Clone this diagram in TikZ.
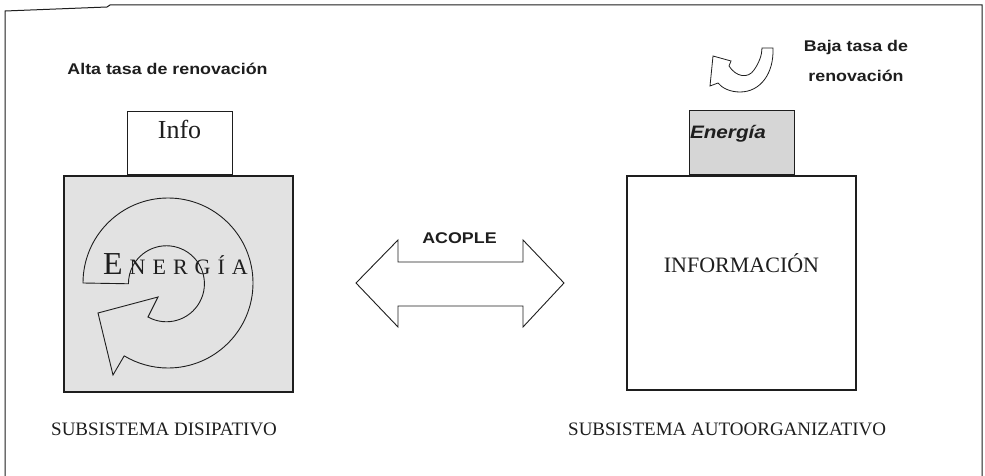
\documentclass[tikz,border=0pt]{standalone}
\usepackage{fontspec}
\setmainfont{Liberation Serif}
\newfontfamily\labelsans{Liberation Sans}[FakeStretch=1.15]
\definecolor{boxgray}{HTML}{E2E2E2}
\definecolor{tabgray}{HTML}{D6D6D6}
\definecolor{ink}{HTML}{1E1E1E}
\begin{document}
\begin{tikzpicture}[x=1pt,y=-1pt,
  every node/.style={inner sep=0pt, text=ink},
  frameline/.style={draw=ink, line width=1pt},
  mainbox/.style={draw=ink, line width=1.3pt, minimum width=229pt, minimum height=216pt},
  tabbox/.style={draw=ink, line width=1pt, text width=105pt},
  bandshape/.style={draw=ink, line width=0.9pt, line join=miter},
  sanslabel/.style={font=\labelsans\bfseries\fontsize{15.5}{18}\selectfont},
  caption/.style={font=\fontsize{19}{22}\selectfont}]
\useasboundingbox (0,0) rectangle (985,476);
\fill[white] (0,0) rectangle (985,476);

% outer frame (open at the bottom)
\draw[frameline] (5,476) -- (5,11) -- (107,7) -- (110,5) -- (982,5) -- (982,476);

% ---------- dissipative subsystem ----------
\node[mainbox, fill=boxgray] (dis) at (178.5,284) {};
\node[tabbox, fill=white, align=center, text height=27pt, text depth=36pt,
      font=\fontsize{26}{28}\selectfont, anchor=south] (info) at (dis.north -| 179.5,0) {Info};

% circulating energy band with arrowhead
\draw[bandshape, fill=boxgray]
  (83,283) arc[start angle=180, end angle=481, radius=85]
  -- (113,375) -- (98,313) -- (158,297) -- (148,317)
  arc[start angle=479, end angle=180, radius=38] -- cycle;
\node[anchor=base west] (energia) at (103,274)
  {{\fontsize{32}{32}\selectfont E}\kern7pt{\fontsize{22}{22}\selectfont
   N\kern7pt E\kern7pt R\kern7pt G\kern7pt Í\kern7pt A}};

\node[sanslabel, anchor=base] (alta) at (167.5,75) {Alta tasa de renovación};
\node[caption, anchor=base west] (capdis) at (51,435) {SUBSISTEMA DISIPATIVO};

% ---------- self-organizing subsystem ----------
\node[mainbox, minimum height=214pt, align=center, text width=229pt,
      text height=96pt, text depth=118pt, font=\fontsize{22}{24}\selectfont,
      minimum width=0pt] (auto) at (741.5,283) {INFORMACIÓN};
\node[tabbox, fill=tabgray, align=left, text width=103pt, inner xsep=1pt,
      text height=28pt, text depth=36pt, anchor=south,
      font=\labelsans\bfseries\itshape\fontsize{18}{20}\selectfont] (ener) at (auto.north -| 741.5,0) {Energía};

% slow-renewal curved arrow
\draw[bandshape, line width=0.8pt, fill=white]
  (773,48) .. controls (774,74) and (760,92) .. (740,92)
  .. controls (730,92) and (722,88) .. (718,83)
  -- (710,86) -- (713,56) -- (731,61) -- (729,66)
  .. controls (736,77) and (748,79) .. (754,70)
  .. controls (759,63) and (762,55) .. (762,48) -- cycle;

\node[sanslabel, align=center, anchor=base] (baja) at (856,52) {Baja tasa de};
\node[sanslabel, anchor=base] (baja2) at (856,82) {renovación};
\node[caption, anchor=base west] (capauto) at (568,435) {SUBSISTEMA AUTOORGANIZATIVO};

% ---------- coupling double arrow ----------
\coordinate (acL) at (356,283);
\coordinate (acR) at (564,283);
\draw[bandshape, fill=white]
  (acL) -- (398,240) -- (398,262) -- (523,262) -- (523,240) -- (acR)
  -- (523,327) -- (523,306) -- (398,306) -- (398,327) -- cycle;
\node[sanslabel, anchor=base] (acople) at (459.5,243) {ACOPLE};
\end{tikzpicture}
\end{document}
